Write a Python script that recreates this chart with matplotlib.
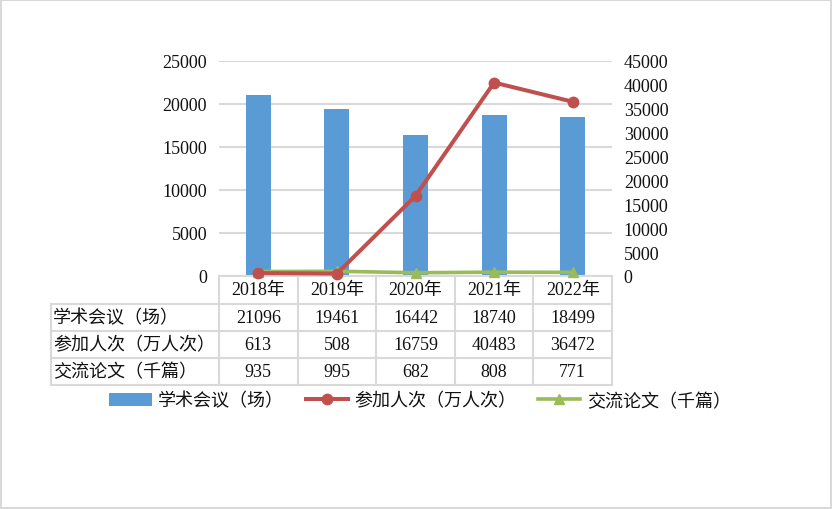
import matplotlib
matplotlib.use("Agg")
import matplotlib.pyplot as plt
from matplotlib import transforms
from matplotlib.patches import Rectangle, Patch
from matplotlib.lines import Line2D

plt.rcParams['font.family'] = ['Liberation Serif', 'Noto Sans CJK SC', 'DejaVu Sans']

years = ["2018年", "2019年", "2020年", "2021年", "2022年"]
series_names = ["学术会议（场）", "参加人次（万人次）", "交流论文（千篇）"]
meetings = [21096, 19461, 16442, 18740, 18499]
participants = [613, 508, 16759, 40483, 36472]
papers = [935, 995, 682, 808, 771]
left_ticks = [0, 5000, 10000, 15000, 20000, 25000]
right_ticks = [0, 5000, 10000, 15000, 20000, 25000, 30000, 35000, 40000, 45000]

BLUE = "#5B9BD5"
RED = "#C0504D"
GREEN = "#9BBB59"
GRID = "#D9D9D9"
TXT = "#111111"
NUM_FS = 13
CJK_FS = 13

W, H = 832, 510
fig = plt.figure(figsize=(W / 100, H / 100), dpi=100)

# plot area in pixels
x0, x1, ytop, ybot = 219, 612, 62, 277
ax = fig.add_axes([x0 / W, 1 - ybot / H, (x1 - x0) / W, (ybot - ytop) / H])
ax2 = ax.twinx()

xs = list(range(len(years)))
ax.bar(xs, meetings, width=0.32, color=BLUE, zorder=2)
ax.set_xlim(-0.5, len(years) - 0.5)
ax.set_ylim(0, 25000)
ax.set_yticks(left_ticks)
ax.yaxis.grid(True, color=GRID, linewidth=1.5)
ax.set_axisbelow(True)
ax.set_xticks([])

ax2.plot(xs, participants, color=RED, linewidth=2.9, marker='o', markersize=7.5, clip_on=False, zorder=5)
ax2.plot(xs, papers, color=GREEN, linewidth=2.6, marker='^', markersize=7.5, clip_on=False, zorder=4)
ax2.set_ylim(0, 45000)
ax2.set_yticks(right_ticks)

for a in (ax, ax2):
    for s in a.spines.values():
        s.set_visible(False)
    a.tick_params(length=0, labelsize=NUM_FS, labelcolor=TXT, pad=8.5)

# data table
axh = ybot - ytop
axw = x1 - x0
def fy(py):
    return (ybot - py) / axh
def fx(px):
    return (px - x0) / axw

blend = transforms.blended_transform_factory(ax.transData, ax.transAxes)
row_edges = [277, 305, 332, 359, 386]
left_px = 51
lw = 1.5
ax.add_line(Line2D([0, 1], [fy(row_edges[0])] * 2, transform=ax.transAxes, color=GRID, lw=lw, clip_on=False))
for r in row_edges[1:]:
    ax.add_line(Line2D([fx(left_px), 1], [fy(r)] * 2, transform=ax.transAxes, color=GRID, lw=lw, clip_on=False))
for i in range(len(years) + 1):
    ax.add_line(Line2D([i - 0.5] * 2, [fy(row_edges[0]), fy(row_edges[-1])], transform=blend, color=GRID, lw=lw, clip_on=False))
ax.add_line(Line2D([fx(left_px)] * 2, [fy(row_edges[1]), fy(row_edges[-1])], transform=ax.transAxes, color=GRID, lw=lw, clip_on=False))

for i, y in enumerate(years):
    ax.text(i, fy((row_edges[0] + row_edges[1]) / 2), y, transform=blend, ha='center', va='center',
            fontsize=NUM_FS, color=TXT)
rows = [meetings, participants, papers]
for r, (name, vals) in enumerate(zip(series_names, rows)):
    yc = fy((row_edges[r + 1] + row_edges[r + 2]) / 2)
    ax.text(fx(left_px + 2), yc, name, transform=ax.transAxes, ha='left', va='center', fontsize=CJK_FS, color=TXT)
    for i, v in enumerate(vals):
        ax.text(i, yc, str(v), transform=blend, ha='center', va='center', fontsize=NUM_FS, color=TXT)

# legend
handles = [Patch(facecolor=BLUE, edgecolor='none'),
           Line2D([], [], color=RED, lw=2.9, marker='o', markersize=7.5),
           Line2D([], [], color=GREEN, lw=2.6, marker='^', markersize=7.5)]
fig.legend(handles, series_names, loc='center', bbox_to_anchor=(420 / W, 1 - 402 / H), ncol=3,
           frameon=False, fontsize=CJK_FS, handlelength=2.35, handletextpad=0.35, columnspacing=1.2,
           labelcolor=TXT, borderpad=0, handleheight=0.7)

fig.add_artist(Rectangle((0, 0), 1, 1, transform=fig.transFigure, fill=False, edgecolor=GRID, linewidth=2.9))

fig.savefig("out.png", dpi=100)
